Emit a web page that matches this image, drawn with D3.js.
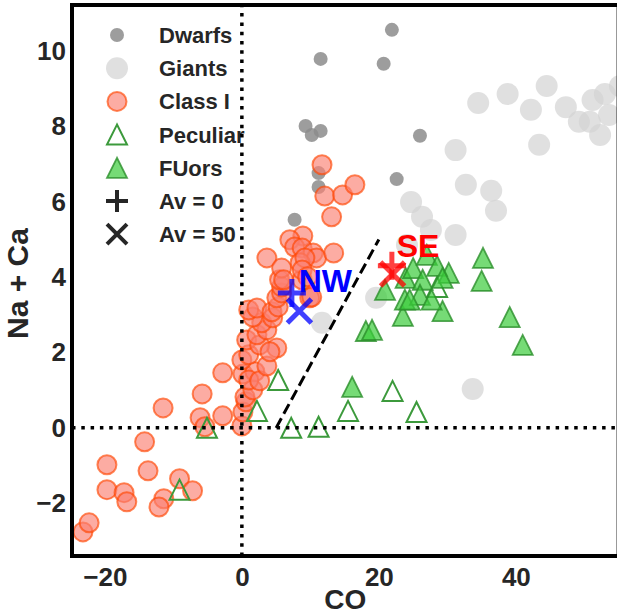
<!DOCTYPE html>
<html>
<head>
<meta charset="utf-8">
<script src="https://cdn.jsdelivr.net/npm/d3@7"></script>
<style>
  html, body { margin: 0; padding: 0; background: #fff; }
  svg { display: block; font-family: "Liberation Sans", Arial, sans-serif; }
</style>
</head>
<body>
<svg id="chart" width="617" height="616"></svg>
<script>
// values: [CO, Na + Ca]
const dwarfs = [
  [21.9, 10.56], [11.5, 9.79], [20.7, 9.66], [9.3, 8.01], [10.2, 7.77], [11.5, 7.88],
  [26.0, 7.75], [11.2, 6.76], [11.2, 6.39], [22.6, 6.60], [7.7, 5.52]
]
const giants = [
  [34.5, 8.62], [38.8, 8.86], [44.5, 9.07], [42.2, 8.44], [47.3, 8.51], [51.2, 8.70],
  [53.0, 8.86], [55.2, 9.07], [49.2, 8.12], [50.8, 8.12], [53.6, 8.30], [52.3, 7.77],
  [43.4, 7.51], [31.2, 7.37], [32.7, 6.45], [36.4, 6.29], [37.1, 5.76], [24.7, 5.99],
  [26.3, 5.60], [27.6, 5.25], [31.2, 5.12], [24.1, 4.85], [19.6, 3.45], [11.7, 2.79],
  [33.7, 1.03]
]
const classI = [
  [-23.2, -2.76], [-22.3, -2.52], [-19.7, -0.98], [-19.7, -1.64], [-17.2, -1.72], [-16.8, -1.96],
  [-14.2, -0.37], [-13.7, -1.14], [-11.5, 0.53], [-11.4, -1.88], [-12.1, -2.10], [-9.1, -1.35],
  [-7.2, -1.67], [-5.8, 0.90], [-6.1, 0.27], [-5.4, 0.03], [-2.8, 1.46], [-2.8, 0.32],
  [0.0, 0.05], [0.15, 0.42], [0.6, 0.69], [0.45, 0.82], [1.6, 1.01], [0.15, 1.43],
  [1.9, 1.49], [1.0, 1.27], [2.6, 1.25], [3.65, 1.64], [0.0, 1.80], [1.0, 1.94],
  [5.1, 2.12], [0.7, 2.33], [2.6, 2.20], [4.1, 2.02], [2.2, 2.47], [3.65, 2.60],
  [2.9, 2.79], [1.6, 2.94], [1.0, 3.13], [2.2, 3.18], [4.5, 2.92], [4.4, 3.08],
  [5.3, 3.21], [5.1, 3.45], [5.8, 3.58], [5.8, 3.74], [5.5, 3.93], [9.9, 3.45],
  [8.8, 3.93], [11.7, 6.98], [12.1, 6.15], [14.7, 6.18], [16.5, 6.45], [13.1, 5.60],
  [8.9, 5.09], [7.0, 4.99], [7.7, 4.80], [8.8, 4.77], [10.4, 4.64], [10.9, 4.51],
  [13.4, 4.64], [3.65, 4.51], [5.8, 4.24], [8.5, 4.38], [9.2, 4.51], [6.1, 3.93],
  [10.2, 3.47], [8.8, 4.19], [9.6, 4.01]
]
const peculiar = [
  [-5.1, 0.0], [-9.1, -1.64], [2.2, 0.45], [5.3, 1.27], [7.2, 0.0], [11.2, 0.03],
  [15.5, 0.45], [22.0, 0.98], [25.5, 0.42], [28.5, 3.74]
]
const fuors = [
  [35.2, 4.51], [35.0, 3.90], [39.1, 2.94], [41.0, 2.20], [29.3, 3.10], [23.5, 2.97],
  [23.8, 3.40], [18.1, 2.57], [19.0, 2.60], [16.1, 1.09], [20.9, 3.66], [23.9, 3.98],
  [25.0, 4.24], [27.0, 4.59], [28.5, 4.30], [30.2, 4.11], [26.4, 3.93], [26.0, 3.53],
  [24.5, 3.40], [29.3, 3.98], [27.7, 3.40]
]
// NW / SE positions for the two extinction values
const regions = ['NW', 'SE']
const av0 = [[7.3, 3.58], [21.9, 4.30]]
const av50 = [[8.4, 3.10], [22.0, 4.08]]
const regionLabelPos = [[8.3, 3.6], [22.6, 4.54]]
const regionColors = ['blue', 'red']
const divider = [[5, 0], [20, 5]]

const xTicks = [-20, 0, 20, 40]
const yTicks = [-2, 0, 2, 4, 6, 8, 10]
const legendLabels = ['Dwarfs', 'Giants', 'Class I', 'Peculiar', 'FUors', 'Av = 0', 'Av = 50']

const svg = d3.select('#chart')
const margin = {top: 5, left: 72}

const x = d3.scaleLinear().domain([-24.8, 55]).range([margin.left, 618.6])
const y = d3.scaleLinear().domain([-3.4, 11.22]).range([556, margin.top])

const ink = '#262626'

// axes (no tick marks, only bold labels)
svg.append('g')
  .attr('transform', 'translate(0,' + y(-3.4) + ')')
  .call(d3.axisBottom(x).tickValues(xTicks).tickSize(0).tickPadding(12))
svg.append('g')
  .attr('transform', 'translate(' + x(-24.8) + ',0)')
  .call(d3.axisLeft(y).tickValues(yTicks).tickSize(0).tickPadding(6))
svg.selectAll('.domain').remove()
svg.selectAll('.tick text')
  .attr('fill', ink)
  .style('font-size', '26px')
  .style('font-weight', 'bold')
  .style('font-family', '"Liberation Sans", Arial, sans-serif')

// axis titles
svg.append('text')
  .attr('x', (x.range()[0] + x.range()[1]) / 2).attr('y', 609)
  .attr('text-anchor', 'middle').attr('fill', ink)
  .style('font-size', '28px').style('font-weight', 'bold')
  .text('CO')
svg.append('text')
  .attr('transform', 'translate(28,' + ((y.range()[0] + y.range()[1]) / 2 + 3) + ') rotate(-90)')
  .attr('text-anchor', 'middle').attr('fill', ink)
  .style('font-size', '30px').style('font-weight', 'bold')
  .text('Na + Ca')

const plot = svg.append('g')

function tri(s) {
  return 'M0,' + (-s) + 'L' + (-s) + ',' + s + 'L' + s + ',' + s + 'Z'
}
function plus(s) {
  return 'M' + (-s) + ',0H' + s + 'M0,' + (-s) + 'V' + s
}
function cross(s) {
  return 'M' + (-s) + ',' + (-s) + 'L' + s + ',' + s + 'M' + (-s) + ',' + s + 'L' + s + ',' + (-s)
}

// giants
plot.append('g').selectAll('circle').data(giants).join('circle')
  .attr('cx', d => x(d[0])).attr('cy', d => y(d[1])).attr('r', 11)
  .attr('fill', '#d3d3d3').attr('fill-opacity', 0.7)

// dwarfs
plot.append('g').selectAll('circle').data(dwarfs).join('circle')
  .attr('cx', d => x(d[0])).attr('cy', d => y(d[1])).attr('r', 7)
  .attr('fill', '#8c8c8c').attr('fill-opacity', 0.85)

// class I
plot.append('g').selectAll('circle').data(classI).join('circle')
  .attr('cx', d => x(d[0])).attr('cy', d => y(d[1])).attr('r', 9.5)
  .attr('fill', 'salmon').attr('fill-opacity', 0.65)
  .attr('stroke', 'orangered').attr('stroke-opacity', 0.65).attr('stroke-width', 2)

// peculiar (open)
plot.append('g').selectAll('path').data(peculiar).join('path')
  .attr('transform', d => 'translate(' + x(d[0]) + ',' + y(d[1]) + ')')
  .attr('d', tri(10))
  .attr('fill', 'none').attr('stroke', '#3c9a3c').attr('stroke-width', 2)

// FUors (filled)
plot.append('g').selectAll('path').data(fuors).join('path')
  .attr('transform', d => 'translate(' + x(d[0]) + ',' + y(d[1]) + ')')
  .attr('d', tri(10))
  .attr('fill', '#3ccc3c').attr('fill-opacity', 0.7)
  .attr('stroke', '#2a8f2a').attr('stroke-opacity', 0.8).attr('stroke-width', 1.8)

// legend
const lg = svg.append('g')
const lx = 117, ly0 = 35, dy = 33.2
const legendMarks = [
  g => g.append('circle').attr('r', 7).attr('fill', '#8c8c8c').attr('fill-opacity', 0.85),
  g => g.append('circle').attr('r', 11).attr('fill', '#d3d3d3').attr('fill-opacity', 0.7),
  g => g.append('circle').attr('r', 9.5).attr('fill', 'salmon').attr('fill-opacity', 0.65)
        .attr('stroke', 'orangered').attr('stroke-opacity', 0.65).attr('stroke-width', 2),
  g => g.append('path').attr('d', tri(10)).attr('fill', 'none').attr('stroke', '#3c9a3c').attr('stroke-width', 2),
  g => g.append('path').attr('d', tri(10)).attr('fill', '#3ccc3c').attr('fill-opacity', 0.7)
        .attr('stroke', '#2a8f2a').attr('stroke-opacity', 0.8).attr('stroke-width', 1.8),
  g => g.append('path').attr('d', plus(11)).attr('stroke', ink).attr('stroke-width', 4).attr('fill', 'none'),
  g => g.append('path').attr('d', cross(10)).attr('stroke', ink).attr('stroke-width', 4).attr('fill', 'none')
]
legendLabels.forEach((lab, i) => {
  const row = lg.append('g').attr('transform', 'translate(0,' + (ly0 + i * dy) + ')')
  legendMarks[i](row.append('g').attr('transform', 'translate(' + lx + ',0)'))
  row.append('text')
    .attr('x', 159).attr('y', 0).attr('dy', '0.36em')
    .attr('fill', ink)
    .style('font-size', '22px').style('font-weight', 'bold')
    .text(lab)
})

// reference lines (drawn over the points, as in the original)
svg.append('line')
  .attr('x1', x(0)).attr('x2', x(0)).attr('y1', y(-3.4)).attr('y2', y(11.22))
  .attr('stroke', '#000').attr('stroke-width', 3.5).attr('stroke-dasharray', '3.5,5.8')
svg.append('line')
  .attr('x1', x(-24.8)).attr('x2', x(55)).attr('y1', y(0)).attr('y2', y(0))
  .attr('stroke', '#000').attr('stroke-width', 3.5).attr('stroke-dasharray', '3.5,5.8')
svg.append('line')
  .attr('x1', x(divider[0][0])).attr('y1', y(divider[0][1]))
  .attr('x2', x(divider[1][0])).attr('y2', y(divider[1][1]))
  .attr('stroke', '#000').attr('stroke-width', 3).attr('stroke-dasharray', '11,5')

// NW / SE markers and labels
regions.forEach((r, i) => {
  plot.append('path')
    .attr('transform', 'translate(' + x(av0[i][0]) + ',' + y(av0[i][1]) + ')')
    .attr('d', plus(14)).attr('stroke', regionColors[i]).attr('stroke-opacity', 0.75)
    .attr('stroke-width', 5).attr('fill', 'none')
  plot.append('path')
    .attr('transform', 'translate(' + x(av50[i][0]) + ',' + y(av50[i][1]) + ')')
    .attr('d', cross(12)).attr('stroke', regionColors[i]).attr('stroke-opacity', 0.75)
    .attr('stroke-width', 5).attr('fill', 'none')
  svg.append('text')
    .attr('x', x(regionLabelPos[i][0])).attr('y', y(regionLabelPos[i][1]))
    .attr('fill', regionColors[i])
    .style('font-size', '32px').style('font-weight', 'bold')
    .text(r)
})

// frame
svg.append('rect')
  .attr('x', x(-24.8)).attr('y', y(11.22))
  .attr('width', x(55) - x(-24.8)).attr('height', y(-3.4) - y(11.22))
  .attr('fill', 'none').attr('stroke', '#000').attr('stroke-width', 4)
</script>
</body>
</html>
